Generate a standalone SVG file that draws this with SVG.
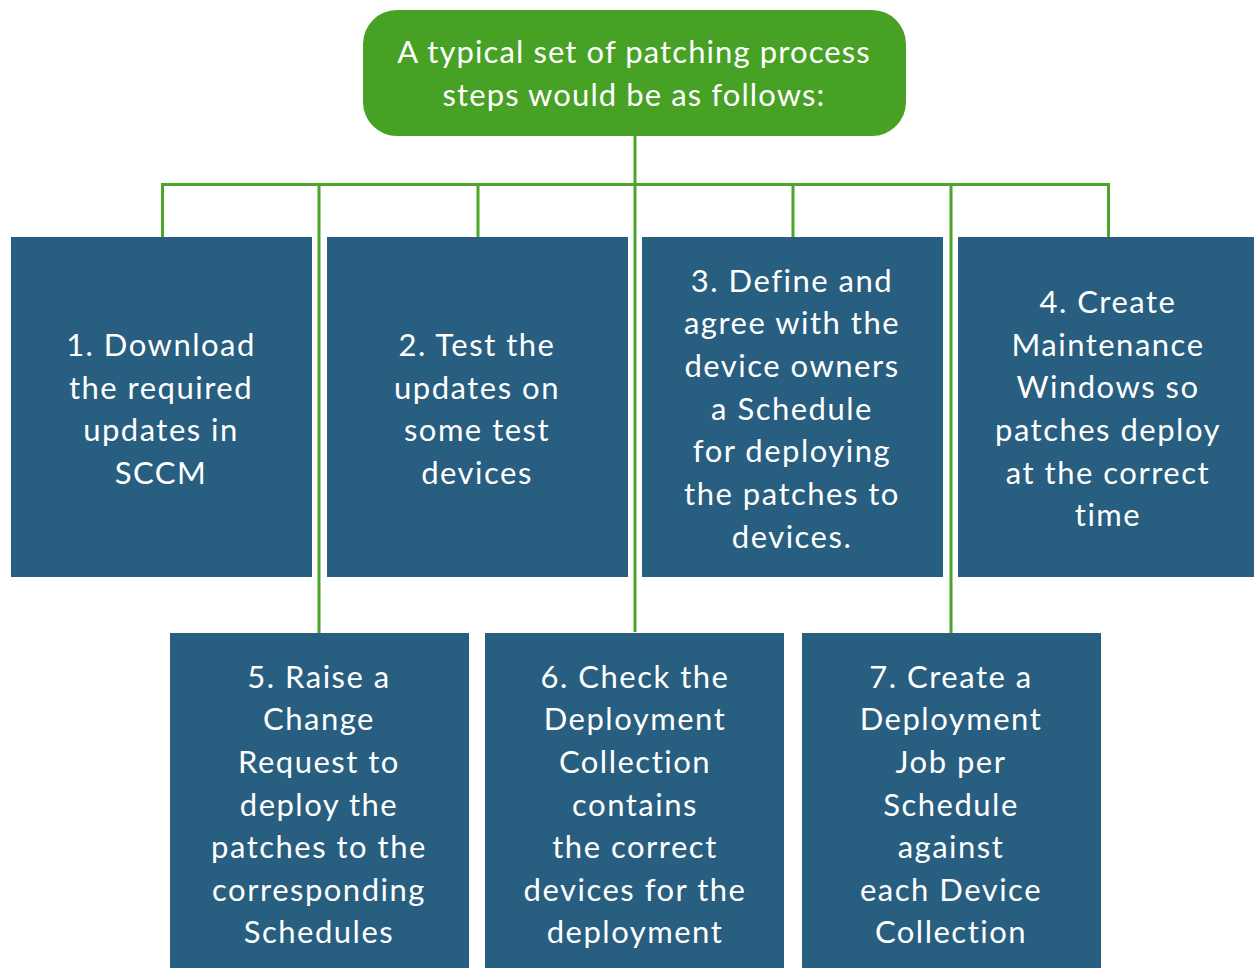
<svg xmlns="http://www.w3.org/2000/svg" width="1254" height="968" viewBox="0 0 1254 968">
  <style>
    .step { fill: #285e7f; }
    .head { fill: #46a125; }
    .label { font-family: Lato, "Noto Sans", sans-serif; font-size: 31px; fill: #ffffff; text-anchor: middle; letter-spacing: 1.5px; }
    .title { letter-spacing: 1.1px; }
    .wire { fill: none; stroke: #4aa52a; stroke-width: 3; }
  </style>
  <rect width="1254" height="968" fill="#ffffff"/>

  <!-- connectors -->
  <g id="connectors">
    <path class="wire" d="M635 136 V632"/>
    <path class="wire" d="M162.5 237 V184.5 H1108.5 V237"/>
    <path class="wire" d="M478 184.5 V237"/>
    <path class="wire" d="M793 184.5 V237"/>
    <path class="wire" d="M319 184.5 V633"/>
    <path class="wire" d="M951 184.5 V633"/>
  </g>

  <g id="header">
    <rect class="head" x="363" y="10" width="543" height="126" rx="34"/>
    <text class="label title"><tspan x="634" y="63">A typical set of patching process</tspan><tspan x="634" y="106">steps would be as follows:</tspan></text>
  </g>

  <g id="step1">
    <rect class="step" x="11" y="237" width="301" height="340"/>
    <text class="label"><tspan x="161" y="356">1. Download</tspan><tspan x="161" y="399">the required</tspan><tspan x="161" y="441">updates in</tspan><tspan x="161" y="484">SCCM</tspan></text>
  </g>

  <g id="step2">
    <rect class="step" x="327" y="237" width="301" height="340"/>
    <text class="label"><tspan x="477" y="356">2. Test the</tspan><tspan x="477" y="399">updates on</tspan><tspan x="477" y="441">some test</tspan><tspan x="477" y="484">devices</tspan></text>
  </g>

  <g id="step3">
    <rect class="step" x="642" y="237" width="301" height="340"/>
    <text class="label"><tspan x="792" y="292">3. Define and</tspan><tspan x="792" y="334">agree with the</tspan><tspan x="792" y="377">device owners</tspan><tspan x="792" y="420">a Schedule</tspan><tspan x="792" y="462">for deploying</tspan><tspan x="792" y="505">the patches to</tspan><tspan x="792" y="548">devices.</tspan></text>
  </g>

  <g id="step4">
    <rect class="step" x="958" y="237" width="296" height="340"/>
    <text class="label"><tspan x="1108" y="313">4. Create</tspan><tspan x="1108" y="356">Maintenance</tspan><tspan x="1108" y="398">Windows so</tspan><tspan x="1108" y="441">patches deploy</tspan><tspan x="1108" y="484">at the correct</tspan><tspan x="1108" y="526">time</tspan></text>
  </g>

  <g id="step5">
    <rect class="step" x="170" y="633" width="299" height="335"/>
    <text class="label"><tspan x="319" y="688">5. Raise a</tspan><tspan x="319" y="730">Change</tspan><tspan x="319" y="773">Request to</tspan><tspan x="319" y="816">deploy the</tspan><tspan x="319" y="858">patches to the</tspan><tspan x="319" y="901">corresponding</tspan><tspan x="319" y="943">Schedules</tspan></text>
  </g>

  <g id="step6">
    <rect class="step" x="485" y="633" width="299" height="335"/>
    <text class="label"><tspan x="635" y="688">6. Check the</tspan><tspan x="635" y="730">Deployment</tspan><tspan x="635" y="773">Collection</tspan><tspan x="635" y="816">contains</tspan><tspan x="635" y="858">the correct</tspan><tspan x="635" y="901">devices for the</tspan><tspan x="635" y="943">deployment</tspan></text>
  </g>

  <g id="step7">
    <rect class="step" x="802" y="633" width="299" height="335"/>
    <text class="label"><tspan x="951" y="688">7. Create a</tspan><tspan x="951" y="730">Deployment</tspan><tspan x="951" y="773">Job per</tspan><tspan x="951" y="816">Schedule</tspan><tspan x="951" y="858">against</tspan><tspan x="951" y="901">each Device</tspan><tspan x="951" y="943">Collection</tspan></text>
  </g>
</svg>
